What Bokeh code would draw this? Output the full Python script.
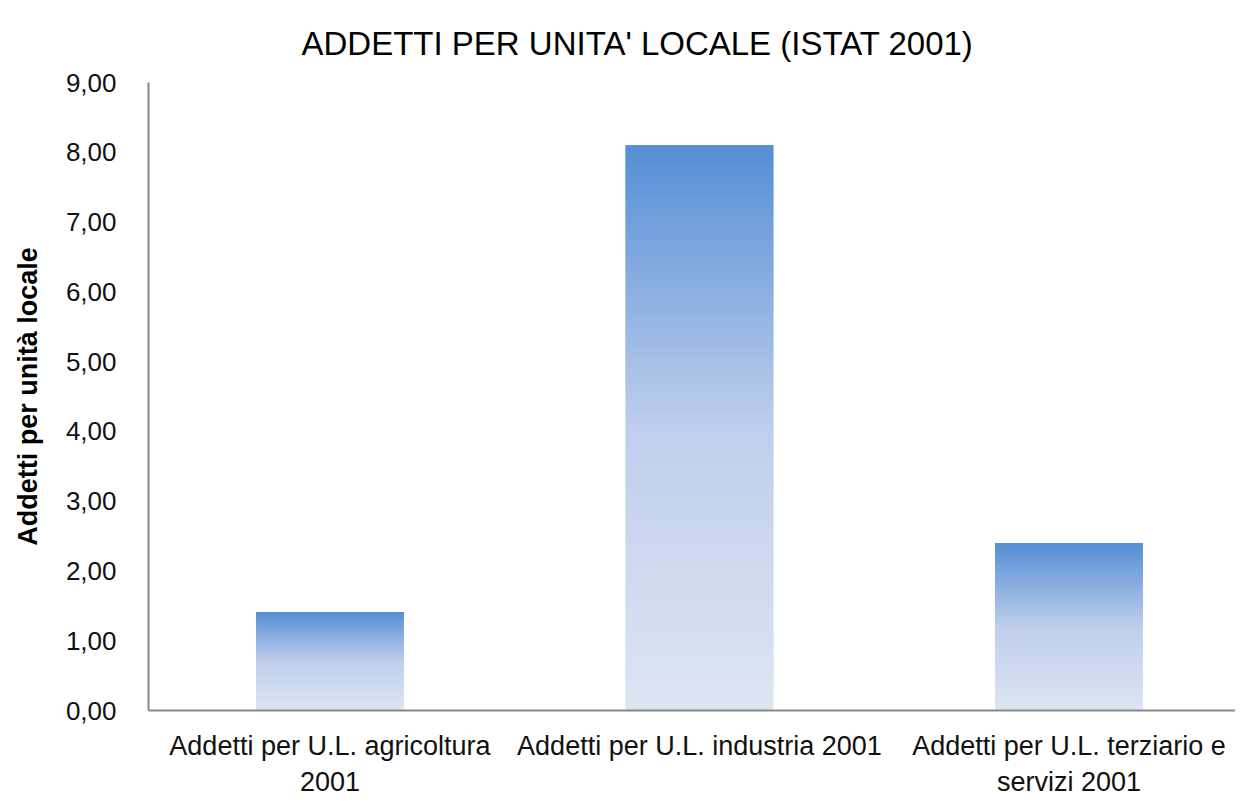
import numpy as np
from bokeh.plotting import figure
from bokeh.models import FixedTicker, Range1d, ColumnDataSource
from bokeh.embed import file_html
from bokeh.resources import INLINE

# ---- data ----
title_text = "ADDETTI PER UNITA' LOCALE (ISTAT 2001)"
y_label_text = "Addetti per unità locale"
categories = ["Addetti per U.L. agricoltura 2001",
              "Addetti per U.L. industria 2001",
              "Addetti per U.L. terziario e servizi 2001"]
category_labels = ["Addetti per U.L. agricoltura\n2001",
                   "Addetti per U.L. industria 2001",
                   "Addetti per U.L. terziario e\nservizi 2001"]
values = [1.41, 8.10, 2.40]
y_ticks = [0, 1, 2, 3, 4, 5, 6, 7, 8, 9]
y_tick_labels = ["0,00", "1,00", "2,00", "3,00", "4,00", "5,00", "6,00", "7,00", "8,00", "9,00"]

FONT = "Liberation Sans"
AXIS_GRAY = "#878787"

# gradient stops (fraction from top of bar, rgb)
stops_pos = [0.0, 0.5, 1.0]
stops_rgb = [(85, 142, 213), (190, 206, 236), (221, 229, 243)]

p = figure(width=1235, height=799, output_backend="svg", toolbar_location=None,
           x_range=Range1d(-0.491, 2.4506), y_range=Range1d(0, 9),
           min_border_left=148, min_border_right=0, min_border_top=82,
           min_border_bottom=20)
p.outline_line_color = None
p.background_fill_color = "white"
p.border_fill_color = "white"
p.xgrid.visible = False
p.ygrid.visible = False

# gradient bars built from overlapping slices
N = 120
xs, bottoms, tops, colors = [], [], [], []
for i, v in enumerate(values):
    for k in range(N):
        b = v * k / N
        t = min(v, v * (k + 2) / N)
        frac_top = 1 - (k + 0.5) / N
        r = np.interp(frac_top, stops_pos, [c[0] for c in stops_rgb])
        g = np.interp(frac_top, stops_pos, [c[1] for c in stops_rgb])
        bl = np.interp(frac_top, stops_pos, [c[2] for c in stops_rgb])
        xs.append(i)
        bottoms.append(b)
        tops.append(t)
        colors.append("#%02x%02x%02x" % (int(round(r)), int(round(g)), int(round(bl))))
src = ColumnDataSource(dict(x=xs, bottom=bottoms, top=tops, color=colors))
p.vbar(x="x", bottom="bottom", top="top", width=0.4, fill_color="color",
       line_color=None, source=src)

# axes
p.xaxis.ticker = FixedTicker(ticks=list(range(len(categories))))
p.xaxis.major_label_overrides = {i: lab for i, lab in enumerate(category_labels)}
p.yaxis.ticker = FixedTicker(ticks=y_ticks)
p.yaxis.major_label_overrides = {t: lab for t, lab in zip(y_ticks, y_tick_labels)}
for ax in (p.xaxis, p.yaxis):
    ax.axis_line_color = AXIS_GRAY
    ax.axis_line_width = 2
    ax.major_tick_line_color = None
    ax.minor_tick_line_color = None
    ax.major_tick_out = 0
    ax.major_tick_in = 0
    ax.major_label_text_font = FONT
    ax.major_label_text_color = "#111111"
p.yaxis.major_label_text_font_size = "26px"
p.xaxis.major_label_text_font_size = "27px"
p.yaxis.major_label_standoff = 32
p.xaxis.major_label_standoff = 20

p.yaxis.axis_label = y_label_text
p.yaxis.axis_label_text_font = FONT
p.yaxis.axis_label_text_font_size = "27px"
p.yaxis.axis_label_text_font_style = "bold"
p.yaxis.axis_label_text_color = "#000000"
p.yaxis.axis_label_standoff = 20

# title
p.title.text = title_text
p.title.text_font = FONT
p.title.text_font_size = "33px"
p.title.text_font_style = "normal"
p.title.align = "left"
p.title.offset = 153
p.title.vertical_align = "bottom"
p.title.text_color = "#000000"
p.title.standoff = 41

open("out.html", "w").write(file_html(p, INLINE))
